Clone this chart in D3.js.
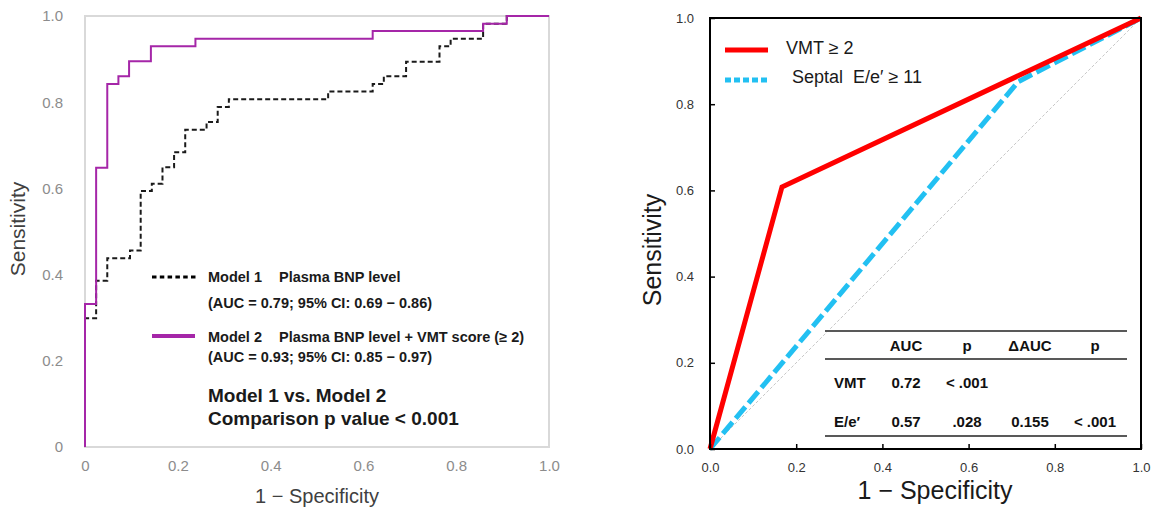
<!DOCTYPE html>
<html>
<head>
<meta charset="utf-8">
<script src="https://cdn.jsdelivr.net/npm/d3@7"></script>
<style>
  body { margin: 0; background: #fff; }
  svg { display: block; font-family: "Liberation Sans", Arial, sans-serif; }
</style>
</head>
<body>
<svg id="chart" width="1152" height="510"></svg>
<script>
// left panel: step ROC curves (1 - specificity, sensitivity)
const model1Fpr  = [0, 0, 0.024, 0.048, 0.097, 0.12, 0.144, 0.167, 0.192, 0.216, 0.262, 0.286, 0.31, 0.524, 0.62, 0.644, 0.692, 0.764, 0.788, 0.858, 0.909, 1];
const model1Sens = [0, 0.299, 0.386, 0.438, 0.456, 0.594, 0.611, 0.649, 0.684, 0.736, 0.754, 0.789, 0.807, 0.825, 0.842, 0.86, 0.894, 0.93, 0.947, 0.982, 1, 1];
const model2Fpr  = [0, 0, 0.024, 0.048, 0.072, 0.095, 0.142, 0.238, 0.62, 0.858, 0.909, 1];
const model2Sens = [0, 0.332, 0.648, 0.842, 0.86, 0.895, 0.93, 0.947, 0.965, 0.982, 1, 1];

// right panel: single cut-off ROC
const vmtFpr  = [0, 0.167, 1];
const vmtSens = [0, 0.608, 1];
const eeFpr   = [0, 0.715, 1];
const eeSens  = [0, 0.852, 1];

const tickValues = [0, 0.2, 0.4, 0.6, 0.8, 1.0];

const tableHeader = ['', 'AUC', 'p', 'ΔAUC', 'p'];
const tableRows = [
    ['VMT', '0.72', '< .001', '', ''],
    ['E/e′', '0.57', '.028', '0.155', '< .001']
];

const svg = d3.select('#chart');
svg.append('rect').attr('width', 1152).attr('height', 510).attr('fill', '#fff');

function styleAxis(g, size, color) {
    g.attr('font-size', size).attr('font-family', null);
    g.selectAll('text').attr('fill', color);
}

// ---------- left panel
const xL = d3.scaleLinear().domain([0, 1]).range([85, 549]);
const yL = d3.scaleLinear().domain([0, 1]).range([447, 16]);
const fmtL = d => d === 0 ? '0' : d.toFixed(1);

svg.append('rect')
    .attr('x', xL(0)).attr('y', yL(1))
    .attr('width', xL(1) - xL(0)).attr('height', yL(0) - yL(1))
    .attr('fill', 'none').attr('stroke', '#d9d9d9').attr('stroke-width', 2);

svg.append('g')
    .attr('transform', `translate(0,${yL(0)})`)
    .call(d3.axisBottom(xL).tickValues(tickValues).tickFormat(fmtL).tickSize(0).tickPadding(13))
    .call(g => g.select('.domain').remove())
    .call(styleAxis, 15, '#8c8c8c');

svg.append('g')
    .attr('transform', `translate(${xL(0)},0)`)
    .call(d3.axisLeft(yL).tickValues(tickValues).tickFormat(fmtL).tickSize(0).tickPadding(22))
    .call(g => g.select('.domain').remove())
    .call(styleAxis, 15, '#8c8c8c');

const stepLine = d3.line()
    .x(d => xL(d[0]))
    .y(d => yL(d[1]))
    .curve(d3.curveStepAfter);

svg.append('path')
    .datum(d3.zip(model1Fpr, model1Sens))
    .attr('d', stepLine)
    .attr('fill', 'none').attr('stroke', '#1a1a1a').attr('stroke-width', 2)
    .attr('stroke-dasharray', '5,3');

svg.append('path')
    .datum(d3.zip(model2Fpr, model2Sens))
    .attr('d', stepLine)
    .attr('fill', 'none').attr('stroke', '#a526a8').attr('stroke-width', 2);

// legend
const legL = svg.append('g').attr('font-weight', 'bold').attr('font-size', 14.5).attr('fill', '#1a1a1a');
legL.append('line').attr('x1', 152).attr('x2', 198).attr('y1', 277).attr('y2', 277)
    .attr('stroke', '#000').attr('stroke-width', 3).attr('stroke-dasharray', '4.5,3.3');
legL.append('line').attr('x1', 152).attr('x2', 195).attr('y1', 336).attr('y2', 336)
    .attr('stroke', '#a526a8').attr('stroke-width', 4);

[
    [208, 277, 'Model 1'],
    [279, 277, 'Plasma BNP level'],
    [208, 303, '(AUC = 0.79; 95% CI: 0.69 − 0.86)'],
    [208, 337, 'Model 2'],
    [279, 337, 'Plasma BNP level + VMT score (≥ 2)'],
    [208, 357, '(AUC = 0.93; 95% CI: 0.85 − 0.97)']
].forEach(([x, y, t]) => {
    legL.append('text').attr('x', x).attr('y', y).attr('dy', '0.35em').text(t);
});

legL.append('text').attr('x', 208).attr('y', 395).attr('dy', '0.35em')
    .attr('font-size', 19).text('Model 1 vs. Model 2');
legL.append('text').attr('x', 208).attr('y', 418).attr('dy', '0.35em')
    .attr('font-size', 19).text('Comparison p value < 0.001');

svg.append('text')
    .attr('x', 317).attr('y', 496).attr('dy', '0.35em')
    .attr('text-anchor', 'middle').attr('font-size', 20).attr('fill', '#404040')
    .text('1 − Specificity');
svg.append('text')
    .attr('transform', 'translate(18,229) rotate(-90)').attr('dy', '0.35em')
    .attr('text-anchor', 'middle').attr('font-size', 21).attr('fill', '#404040')
    .text('Sensitivity');

// ---------- right panel
const xR = d3.scaleLinear().domain([0, 1]).range([710, 1141]);
const yR = d3.scaleLinear().domain([0, 1]).range([449, 18]);

svg.append('line')
    .attr('x1', xR(0)).attr('y1', yR(0)).attr('x2', xR(1)).attr('y2', yR(1))
    .attr('stroke', '#c8c8c8').attr('stroke-width', 1).attr('stroke-dasharray', '3,2');

const line = d3.line().x(d => xR(d[0])).y(d => yR(d[1]));

svg.append('path')
    .datum(d3.zip(eeFpr, eeSens))
    .attr('d', line)
    .attr('fill', 'none').attr('stroke', '#22c0f2').attr('stroke-width', 5)
    .attr('stroke-dasharray', '15,5');

svg.append('path')
    .datum(d3.zip(vmtFpr, vmtSens))
    .attr('d', line)
    .attr('fill', 'none').attr('stroke', '#ff0000').attr('stroke-width', 5)
    .attr('stroke-linejoin', 'miter');

svg.append('rect')
    .attr('x', xR(0)).attr('y', yR(1))
    .attr('width', xR(1) - xR(0)).attr('height', yR(0) - yR(1))
    .attr('fill', 'none').attr('stroke', '#000').attr('stroke-width', 2);

svg.append('g')
    .attr('transform', `translate(0,${yR(0)})`)
    .call(d3.axisBottom(xR).tickValues(tickValues).tickFormat(d3.format('.1f')).tickSize(-5).tickPadding(14))
    .call(g => g.select('.domain').remove())
    .call(g => g.selectAll('.tick line').attr('stroke', '#000').attr('stroke-width', 1.5))
    .call(styleAxis, 13, '#333');

svg.append('g')
    .attr('transform', `translate(${xR(0)},0)`)
    .call(d3.axisLeft(yR).tickValues(tickValues).tickFormat(d3.format('.1f')).tickSize(-5).tickPadding(16))
    .call(g => g.select('.domain').remove())
    .call(g => g.selectAll('.tick line').attr('stroke', '#000').attr('stroke-width', 1.5))
    .call(styleAxis, 13, '#333');

// legend
svg.append('line').attr('x1', 725).attr('x2', 768).attr('y1', 50).attr('y2', 50)
    .attr('stroke', '#ff0000').attr('stroke-width', 5);
svg.append('text').attr('x', 786).attr('y', 48).attr('dy', '0.35em')
    .attr('font-size', 18).attr('fill', '#1a1a1a').text('VMT ≥ 2');
svg.append('line').attr('x1', 725).attr('x2', 768).attr('y1', 80).attr('y2', 80)
    .attr('stroke', '#22c0f2').attr('stroke-width', 5).attr('stroke-dasharray', '6,3');
svg.append('text').attr('x', 792).attr('y', 77).attr('dy', '0.35em')
    .attr('font-size', 18).attr('fill', '#1a1a1a').style('white-space', 'pre')
    .text('Septal  E/e′ ≥ 11');

// table
const colX = [834, 906, 967, 1030, 1095];
const table = svg.append('g').attr('font-weight', 'bold').attr('font-size', 15).attr('fill', '#111');
[331, 359, 436].forEach(y => {
    table.append('line').attr('x1', 825).attr('x2', 1127).attr('y1', y).attr('y2', y)
        .attr('stroke', '#595959').attr('stroke-width', 2);
});
[[346, tableHeader], [383, tableRows[0]], [422, tableRows[1]]].forEach(([y, row]) => {
    row.forEach((t, i) => {
        table.append('text')
            .attr('x', colX[i]).attr('y', y).attr('dy', '0.35em')
            .attr('text-anchor', i === 0 ? 'start' : 'middle')
            .text(t);
    });
});

svg.append('text')
    .attr('x', 935).attr('y', 490).attr('dy', '0.35em')
    .attr('text-anchor', 'middle').attr('font-size', 25).attr('fill', '#1a1a1a')
    .text('1 − Specificity');
svg.append('text')
    .attr('transform', 'translate(652,250) rotate(-90)').attr('dy', '0.35em')
    .attr('text-anchor', 'middle').attr('font-size', 25).attr('fill', '#1a1a1a')
    .text('Sensitivity');
</script>
</body>
</html>
